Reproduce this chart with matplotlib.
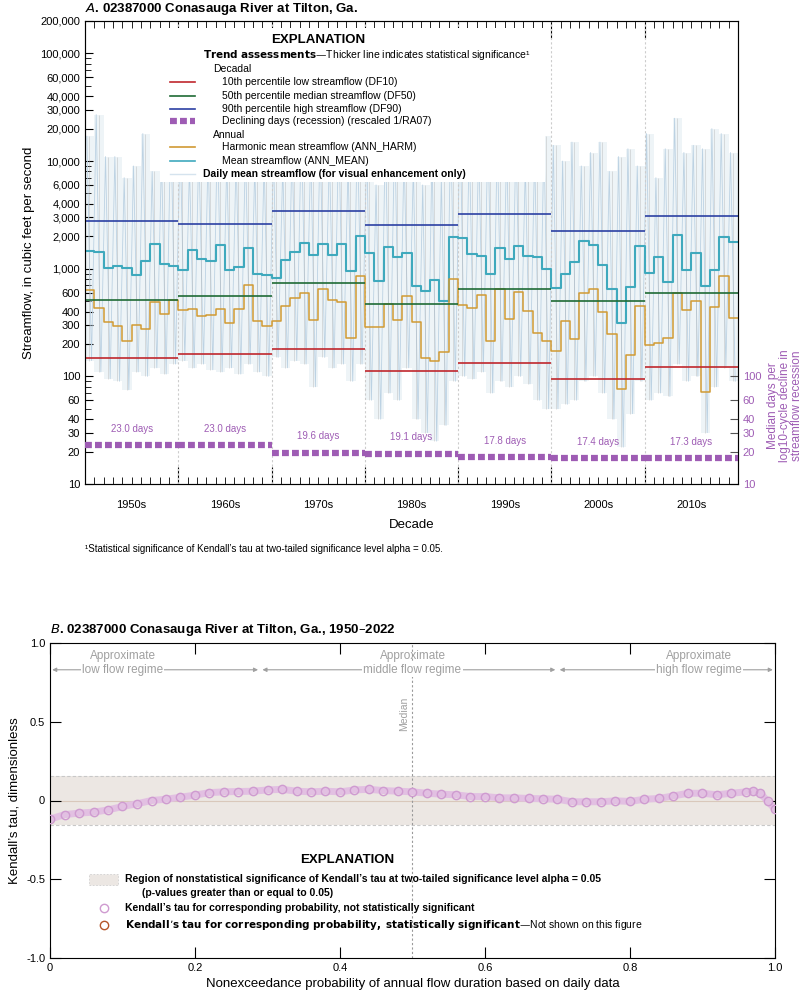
import numpy as np
import matplotlib
matplotlib.use("Agg")
import matplotlib.pyplot as plt
from matplotlib.patches import Rectangle
from matplotlib.lines import Line2D

plt.rcParams['font.family'] = ['Liberation Sans Narrow', 'Liberation Sans', 'DejaVu Sans']
plt.rcParams['font.size'] = 8

# ---------------- data: panel A ----------------
years = list(range(1950, 2020))
decade_starts = [1950, 1960, 1970, 1980, 1990, 2000, 2010]
decade_labels = ['1950s', '1960s', '1970s', '1980s', '1990s', '2000s', '2010s']

ann_mean = [1461, 1420, 1014, 1051, 1022, 880, 1170, 1685, 1097, 1066,
            979, 1503, 1222, 1179, 1650, 965, 1036, 1557, 898, 873,
            813, 1196, 1430, 1735, 1331, 1710, 1331, 1710, 958, 2000,
            1390, 768, 1592, 1284, 1399, 694, 619, 779, 496, 1973,
            1944, 1380, 1321, 886, 1569, 1239, 1614, 1312, 1284, 986,
            665, 898, 1153, 1810, 1650, 1074, 651, 312, 675, 1614,
            918, 1284, 751, 2044, 979, 1399, 685, 979, 1973, 1772]
ann_harm = [637, 430, 323, 296, 215, 303, 276, 486, 381, 507,
            415, 421, 362, 373, 424, 314, 418, 710, 330, 296,
            330, 446, 537, 598, 335, 646, 514, 489, 226, 854,
            286, 290, 472, 335, 552, 318, 147, 140, 167, 807,
            465, 430, 573, 215, 642, 342, 606, 403, 253, 215,
            171, 330, 223, 598, 651, 395, 249, 77, 158, 455,
            197, 203, 226, 594, 415, 500, 72, 439, 848, 350]
daily_hi = [17000, 27000, 11000, 11000, 7000, 9000, 18000, 8000, 11000, 23000,
            17000, 9000, 14000, 12000, 20000, 10000, 11000, 13000, 9000, 10000,
            12000, 9000, 14000, 22000, 13000, 17000, 12000, 20000, 9000, 20000,
            14000, 6000, 20000, 22000, 12000, 9000, 6000, 12000, 7000, 22000,
            25000, 15000, 14000, 21000, 17000, 14000, 18000, 9000, 12000, 17000,
            14000, 10000, 15000, 9000, 12000, 15000, 8000, 11000, 13000, 9000,
            18000, 7000, 13000, 25000, 12000, 14000, 13000, 20000, 18000, 12000]
daily_lo = [140, 110, 95, 90, 75, 110, 100, 120, 105, 130,
            140, 120, 130, 115, 110, 120, 105, 130, 110, 100,
            150, 120, 140, 130, 80, 150, 120, 130, 90, 130,
            60, 40, 70, 60, 120, 40, 30, 25, 35, 90,
            100, 95, 110, 70, 90, 80, 100, 85, 60, 50,
            50, 55, 60, 90, 100, 70, 40, 22, 45, 90,
            60, 70, 65, 130, 90, 100, 30, 80, 120, 90]
df10 = [147, 161, 180, 113, 132, 94, 121]
df50 = [511, 552, 741, 472, 646, 500, 589]
df90 = [2800, 2590, 3445, 2535, 3210, 2228, 3095]
recession = [23.0, 23.0, 19.6, 19.1, 17.8, 17.4, 17.3]

# ---------------- data: panel B ----------------
prob = [0, 0.02, 0.04, 0.06, 0.08, 0.10, 0.12, 0.14, 0.16, 0.18, 0.20, 0.22, 0.24,
        0.26, 0.28, 0.30, 0.32, 0.34, 0.36, 0.38, 0.40, 0.42, 0.44, 0.46, 0.48,
        0.50, 0.52, 0.54, 0.56, 0.58, 0.60, 0.62, 0.64, 0.66, 0.68, 0.70, 0.72,
        0.74, 0.76, 0.78, 0.80, 0.82, 0.84, 0.86, 0.88, 0.90, 0.92, 0.94, 0.96,
        0.97, 0.98, 0.99, 1.00]
tau = [-0.118, -0.09, -0.08, -0.074, -0.06, -0.038, -0.021, 0.0, 0.008, 0.021,
       0.034, 0.05, 0.055, 0.057, 0.059, 0.067, 0.071, 0.059, 0.055, 0.059,
       0.055, 0.067, 0.071, 0.063, 0.059, 0.055, 0.046, 0.04, 0.036, 0.025,
       0.025, 0.017, 0.017, 0.013, 0.011, 0.008, -0.008, -0.008, -0.008, -0.002,
       -0.006, 0.008, 0.013, 0.029, 0.046, 0.046, 0.036, 0.046, 0.055, 0.059,
       0.046, -0.006, -0.055]
tau_crit = 0.158

c_df10 = '#c0272d'
c_df50 = '#1f6b35'
c_df90 = '#2c40a3'
c_rec = '#9e5cb4'
c_harm = '#d19a33'
c_mean = '#3fa9bd'
c_daily = '#c9dbe7'

W, H = 809, 999
fig = plt.figure(figsize=(W / 100, H / 100), dpi=100)

# ================= Panel A =================
axA = fig.add_axes([85 / W, 1 - 484 / H, (738 - 85) / W, (484 - 21) / H])
axA.set_yscale('log')
axA.set_ylim(10, 200000)
axA.set_xlim(1950, 2020)

yrs = np.array(years, dtype=float)
# daily streamflow (visual enhancement only)
axA.fill_between(np.append(yrs, 2020), np.append(daily_lo, daily_lo[-1]),
                 np.append(daily_hi, daily_hi[-1]), step='post',
                 color=c_daily, alpha=0.3, lw=0, zorder=1)
zx, zy = [], []
for y, lo, hi in zip(years, daily_lo, daily_hi):
    zx += [y + 0.2, y + 0.7]
    zy += [hi, lo]
axA.plot(zx, zy, color='#bcd2e3', lw=0.6, zorder=2)
axA.vlines(yrs + 0.45, daily_lo, daily_hi, color='#a9a9a9', lw=0.5, alpha=0.5, zorder=2)

for b in decade_starts[1:]:
    axA.axvline(b, color='#cccccc', ls=(0, (2, 2)), lw=0.8, zorder=2)

axA.step(np.append(yrs, 2020), np.append(ann_mean, ann_mean[-1]), where='post',
         color=c_mean, lw=1.5, zorder=4)
axA.step(np.append(yrs, 2020), np.append(ann_harm, ann_harm[-1]), where='post',
         color=c_harm, lw=1.1, zorder=4)
for i, d in enumerate(decade_starts):
    axA.hlines(df10[i], d, d + 10, color=c_df10, lw=1.2, zorder=5)
    axA.hlines(df50[i], d, d + 10, color=c_df50, lw=1.2, zorder=5)
    axA.hlines(df90[i], d, d + 10, color=c_df90, lw=1.2, zorder=5)

axA.set_yticks([10, 20, 30, 40, 60, 100, 200, 300, 400, 600, 1000, 2000, 3000, 4000,
                6000, 10000, 20000, 30000, 40000, 60000, 100000, 200000])
axA.set_yticklabels(['10', '20', '30', '40', '60', '100', '200', '300', '400', '600', '1,000',
                     '2,000', '3,000', '4,000', '6,000', '10,000', '20,000', '30,000',
                     '40,000', '60,000', '100,000', '200,000'])
axA.yaxis.set_minor_locator(matplotlib.ticker.LogLocator(subs=(5, 7, 8, 9)))
axA.yaxis.set_minor_formatter(matplotlib.ticker.NullFormatter())
axA.tick_params(axis='y', which='both', direction='in', length=6, labelsize=8)
axA.tick_params(axis='y', which='minor', length=4)
axA.set_xticks(decade_starts[1:])
axA.set_xticklabels([])
axA.set_xticks(years, minor=True)
axA.tick_params(axis='x', which='major', direction='in', length=12, top=True)
axA.tick_params(axis='x', which='minor', direction='in', length=5, top=True)
for d, lab in zip(decade_starts, decade_labels):
    axA.text(d + 5, -0.035, lab, transform=axA.get_xaxis_transform(),
             ha='center', va='top', fontsize=8)
axA.text(0.5, -0.075, 'Decade', transform=axA.transAxes, ha='center', va='top', fontsize=9.5)
axA.set_ylabel('Streamflow, in cubic feet per second', fontsize=9.5)
for s in axA.spines.values():
    s.set_color('#555555')

axR = axA.twinx()
axR.set_yscale('log')
axR.set_ylim(10, 200000)
for i, d in enumerate(decade_starts):
    axR.hlines(recession[i], d, d + 10, color=c_rec, lw=4.5, linestyles=(0, (1.1, 0.5)), zorder=6)
    axR.text(d + 5, recession[i] * 1.28, '%.1f days' % recession[i], color=c_rec,
             ha='center', va='bottom', fontsize=7)
axR.set_yticks([10, 20, 30, 40, 60, 100])
axR.set_yticklabels(['10', '20', '30', '40', '60', '100'])
axR.yaxis.set_minor_locator(matplotlib.ticker.NullLocator())
axR.tick_params(axis='y', direction='in', length=6, labelsize=8, colors='#555555',
                labelcolor=c_rec)
axR.set_ylabel('Median days per\nlog10-cycle decline in\nstreamflow recession',
               color=c_rec, fontsize=8.5, linespacing=1.0)
axR.yaxis.set_label_coords(1.045, 0.17)
axA.set_xlim(1950, 2020)

fig.text(85 / W, 1 - 9 / H, r'$\mathbf{\it{A}}$' + '. 02387000 Conasauga River at Tilton, Ga.',
         fontsize=9.5, fontweight='bold', va='center', ha='left')

# explanation box for panel A
tr = axA.transAxes
def fx(px):
    return (px - 85) / (738 - 85)
def fy(py):
    return (484 - py) / (484 - 21)
axA.add_patch(Rectangle((fx(160), fy(182)), fx(545) - fx(160), fy(28) - fy(182),
                        transform=tr, facecolor='white', edgecolor='none', zorder=7))
axA.text(fx(318), fy(40), 'EXPLANATION', transform=tr, ha='center', va='center',
         fontsize=9.5, fontweight='bold', zorder=8)
axA.text(fx(203), fy(55), r'$\bf{Trend\ assessments}$' + '—Thicker line indicates statistical significance¹',
         transform=tr, va='center', fontsize=7.5, zorder=8)
axA.text(fx(213), fy(69), 'Decadal', transform=tr, va='center', fontsize=7.5, zorder=8)
axA.text(fx(213), fy(135), 'Annual', transform=tr, va='center', fontsize=7.5, zorder=8)
items = [(82, c_df10, '-', 1.2, '10th percentile low streamflow (DF10)'),
         (96, c_df50, '-', 1.2, '50th percentile median streamflow (DF50)'),
         (109, c_df90, '-', 1.2, '90th percentile high streamflow (DF90)'),
         (121, c_rec, (0, (1.1, 0.5)), 4.5, 'Declining days (recession) (rescaled 1/RA07)'),
         (147, c_harm, '-', 1.2, 'Harmonic mean streamflow (ANN_HARM)'),
         (161, c_mean, '-', 1.2, 'Mean streamflow (ANN_MEAN)')]
for py, c, ls, lw, lab in items:
    axA.add_line(Line2D([fx(170), fx(195)], [fy(py), fy(py)], transform=tr, color=c,
                        ls=ls, lw=lw, zorder=8))
    axA.text(fx(222), fy(py), lab, transform=tr, va='center', fontsize=7.5, zorder=8)
axA.add_line(Line2D([fx(170), fx(195)], [fy(174), fy(174)], transform=tr, color='#d5e3ee',
                    lw=1.0, zorder=8))
axA.text(fx(203), fy(174), 'Daily mean streamflow (for visual enhancement only)', transform=tr,
         va='center', fontsize=7.5, fontweight='bold', zorder=8)

fig.text(85 / W, 1 - 549 / H,
         '¹Statistical significance of Kendall’s tau at two-tailed significance level alpha = 0.05.',
         fontsize=7, va='center')

# ================= Panel B =================
axB = fig.add_axes([50 / W, 1 - 958 / H, (775 - 50) / W, (958 - 643) / H])
axB.set_xlim(0, 1)
axB.set_ylim(-1, 1)
axB.axhspan(-tau_crit, tau_crit, color='#ece7e3', lw=0, zorder=0)
axB.axhline(tau_crit, color='#c8c8c8', ls=(0, (3, 2)), lw=0.8, zorder=1)
axB.axhline(-tau_crit, color='#c8c8c8', ls=(0, (3, 2)), lw=0.8, zorder=1)
axB.axhline(0, color='#d9c8bb', lw=0.8, zorder=1)
axB.axvline(0.5, color='#9a9a9a', ls=(0, (2, 2)), lw=0.8, zorder=1)
axB.text(0.488, 0.55, 'Median', rotation=90, color='#a0a0a0', ha='center', va='center',
         fontsize=7.5)
axB.plot(prob, tau, color='#e2c0e2', lw=5, zorder=2, solid_capstyle='round')
axB.plot(prob, tau, ls='none', marker='o', ms=6, mfc='none', mec='#cf9bd0', mew=1.0, zorder=3)

regimes = [(0.0, 0.29, 0.1, 'low flow regime'), (0.29, 0.70, 0.5, 'middle flow regime'),
           (0.70, 1.0, 0.895, 'high flow regime')]
for x0, x1, xc, lab in regimes:
    axB.annotate('', xy=(x0 + 0.003, 0.83), xytext=(x1 - 0.003, 0.83),
                 arrowprops=dict(arrowstyle='<|-|>', color='#a0a0a0', lw=0.8,
                                 mutation_scale=6, shrinkA=0, shrinkB=0))
    axB.text(xc, 0.83, lab, ha='center', va='center', color='#a0a0a0', fontsize=8.5,
             bbox=dict(facecolor='white', edgecolor='none', pad=1))
    axB.text(xc, 0.92, 'Approximate', ha='center', va='center', color='#a0a0a0', fontsize=8.5)

axB.set_xticks([0, 0.2, 0.4, 0.6, 0.8, 1.0])
axB.set_xticklabels(['0', '0.2', '0.4', '0.6', '0.8', '1.0'])
axB.set_yticks([-1, -0.5, 0, 0.5, 1])
axB.set_yticklabels(['-1.0', '-0.5', '0', '0.5', '1.0'])
axB.tick_params(direction='in', length=8, top=True, right=True, labelsize=8)
axB.set_xlabel('Nonexceedance probability of annual flow duration based on daily data', fontsize=9.5)
axB.set_ylabel('Kendall’s tau, dimensionless', fontsize=9.5)

axB.text(0.41, -0.38, 'EXPLANATION', ha='center', va='center', fontsize=9.5, fontweight='bold')
axB.add_patch(Rectangle((0.054, -0.535), 0.04, 0.07, facecolor='#ece7e3', edgecolor='#d0d0d0',
                        ls=(0, (2, 2)), lw=0.6))
axB.text(0.103, -0.5, 'Region of nonstatistical significance of Kendall’s tau at two-tailed significance level alpha = 0.05',
         va='center', fontsize=7.5, fontweight='bold')
axB.text(0.127, -0.59, '(p-values greater than or equal to 0.05)', va='center', fontsize=7.5,
         fontweight='bold')
axB.plot([0.074], [-0.685], marker='o', ms=6, mfc='none', mec='#cf9bd0', mew=1.0)
axB.text(0.103, -0.685, 'Kendall’s tau for corresponding probability, not statistically significant',
         va='center', fontsize=7.5, fontweight='bold')
axB.plot([0.074], [-0.79], marker='o', ms=6, mfc='none', mec='#b5562a', mew=1.0)
axB.text(0.103, -0.79, r'$\bf{Kendall’s\ tau\ for\ corresponding\ probability,\ statistically\ significant}$'
         + '—Not shown on this figure', va='center', fontsize=7.5)

fig.text(50 / W, 1 - 630 / H, r'$\mathbf{\it{B}}$' + '. 02387000 Conasauga River at Tilton, Ga., 1950–2022',
         fontsize=9.5, fontweight='bold', va='center', ha='left')

fig.savefig('out.png', dpi=100)
